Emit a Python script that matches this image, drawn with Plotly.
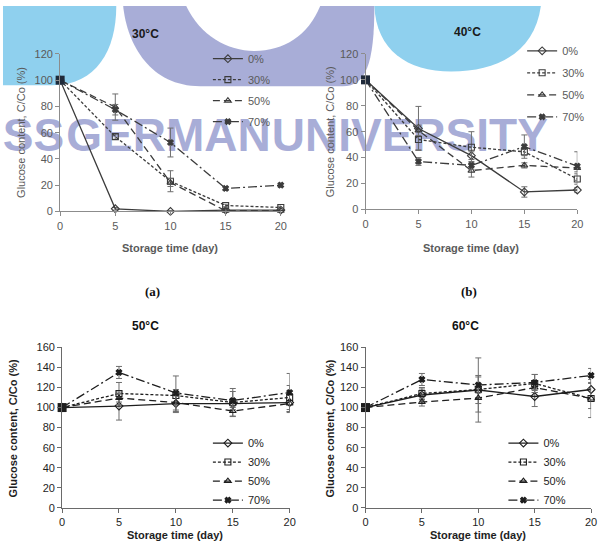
import plotly.graph_objects as go

W, H = 603, 550

# ---------------- data ----------------
days = [0, 5, 10, 15, 20]
series_names = ["0%", "30%", "50%", "70%"]

# 30 °C
a_0 = [100, 2, 0, 1, 1]
a_30 = [100, 57, 23, 4.5, 3]
a_50 = [100, 79.5, 22, 0.5, 0.5]
a_70 = [100, 77.5, 52.5, 17.5, 20]
a_err_0 = [0, 1, 0.5, 0.5, 0.5]
a_err_30 = [0, 2, 8, 1, 1]
a_err_50 = [0, 10, 3, 0.5, 0.5]
a_err_70 = [0, 4, 11, 1.5, 1.5]

# 40 °C
b_0 = [100, 62.5, 41.5, 13.5, 15]
b_30 = [100, 54, 48, 44.5, 23.5]
b_50 = [100, 61, 30, 34, 32]
b_70 = [100, 37, 34, 48.5, 33.5]
b_err_0 = [0, 17, 3, 4, 2]
b_err_30 = [0, 8, 12, 3, 4]
b_err_50 = [0, 4, 5, 2, 3]
b_err_70 = [0, 3, 3, 9, 11]

# 50 °C
c_0 = [100, 101.5, 104, 104, 105]
c_30 = [100, 114, 112, 105, 110]
c_50 = [100, 109.5, 105, 96.5, 104]
c_70 = [100, 135, 114.5, 107, 115]
c_err_0 = [0, 14, 8, 4, 10]
c_err_30 = [0, 11, 6, 14, 12]
c_err_50 = [0, 4, 10, 5, 8]
c_err_70 = [0, 6, 17, 9, 19]

# 60 °C
d_0 = [100, 112.5, 117.5, 111, 118]
d_30 = [100, 114, 118, 124, 109]
d_50 = [100, 105.5, 109.5, 120, 109]
d_70 = [100, 128, 122.5, 125, 132]
d_err_0 = [0, 6, 32, 10, 6]
d_err_30 = [0, 6, 14, 9, 19]
d_err_50 = [0, 4, 14, 5, 10]
d_err_70 = [0, 6, 8, 8, 7]

panel_titles = ["30°C", "40°C", "50°C", "60°C"]
x_title = "Storage time (day)"
y_title = "Glucose content, C/Co (%)"
x_ticks = [0, 5, 10, 15, 20]
y_ticks_top = [0, 20, 40, 60, 80, 100, 120]
y_ticks_bottom = [0, 20, 40, 60, 80, 100, 120, 140, 160]
watermark_words = ["SS", "GERMAN", "UNIVERSITY"]

# ---------------- style ----------------
FONT = "Liberation Sans, Arial, sans-serif"
symbols = ["diamond-open", "square-open", "triangle-up-open", "x"]
dashes = ["solid", "3px,2px", "7px,4px", "9px,3px,2px,3px"]
LAV = "#a8add7"
BLUE = "#8fd0ee"


def px_x(p):
    return p / W


def px_y(p):
    return 1 - p / H


panels = [
    dict(ax="2", vals=[a_0, a_30, a_50, a_70], errs=[a_err_0, a_err_30, a_err_50, a_err_70],
         xd=(58, 282), yd=(210, 49), yr=120, yt=y_ticks_top, top=True,
         leg=(208, 39), gap=2, title=(145, 29), xt=(170, 247), ytp=(18, 129)),
    dict(ax="3", vals=[b_0, b_30, b_50, b_70], errs=[b_err_0, b_err_30, b_err_50, b_err_70],
         xd=(368, 583), yd=(208, 49), yr=120, yt=y_ticks_top, top=True,
         leg=(527, 31), gap=3, title=(472, 27), xt=(475, 247), ytp=(332, 129)),
    dict(ax="4", vals=[c_0, c_30, c_50, c_70], errs=[c_err_0, c_err_30, c_err_50, c_err_70],
         xd=(60, 291), yd=(513, 349), yr=160, yt=y_ticks_bottom, top=False,
         leg=(208, 432), gap=0, title=(145, 327), xt=(175, 541), ytp=(10, 432)),
    dict(ax="5", vals=[d_0, d_30, d_50, d_70], errs=[d_err_0, d_err_30, d_err_50, d_err_70],
         xd=(368, 597), yd=(513, 349), yr=160, yt=y_ticks_bottom, top=False,
         leg=(508, 432), gap=0, title=(470, 327), xt=(482, 541), ytp=(332, 432)),
]

fig = go.Figure()

# background (watermark) subplot in pixel coordinates, drawn first
fig.add_trace(go.Scatter(
    x=[31, 168, 413], y=[136, 136, 136], mode="text",
    text=["<b>%s</b>" % w for w in watermark_words],
    textfont=dict(family="Liberation Sans, Arial, sans-serif", size=46, color=LAV),
    showlegend=False, hoverinfo="skip", xaxis="x", yaxis="y", cliponaxis=False))

layout_extra = {}
annotations = []
legend_defs = {}

for pi, p in enumerate(panels):
    ax = p["ax"]
    top = p["top"]
    lc = "#3c3c3c" if top else "#1e1e1e"
    tc = "#5a5a5a" if top else "#1e1e1e"
    axc = "#8c8c8c" if top else "#6a6a6a"
    legname = "legend" if pi == 0 else "legend%d" % (pi + 1)
    for si, name in enumerate(series_names):
        fig.add_trace(go.Scatter(
            x=days, y=p["vals"][si], name=name, mode="lines+markers",
            line=dict(color=lc, width=1.3, dash=dashes[si]),
            marker=dict(symbol=symbols[si], size=6 if si < 3 else 5, color=lc,
                        line=dict(color=lc, width=1.1)),
            error_y=dict(type="data", array=p["errs"][si], visible=True,
                         color="#6e6e6e", thickness=1, width=3),
            xaxis="x" + ax, yaxis="y" + ax, legend=legname,
            legendgroup="g%d_%d" % (pi, si), cliponaxis=False))
    # shared starting point drawn as a filled square
    fig.add_trace(go.Scatter(
        x=[days[0]], y=[p["vals"][0][0]], mode="markers",
        marker=dict(symbol="square", size=9, color="#1f2a3a" if top else "#1e1e1e"),
        showlegend=False, hoverinfo="skip", xaxis="x" + ax, yaxis="y" + ax, cliponaxis=False))

    layout_extra["xaxis" + ax] = dict(
        domain=[px_x(p["xd"][0]), px_x(p["xd"][1])], range=[0, 20], tickvals=x_ticks,
        anchor="y" + ax, showline=True, linecolor=axc, linewidth=1, ticks="outside",
        ticklen=4, tickcolor=axc, showgrid=False, zeroline=False,
        tickfont=dict(family=FONT, size=11, color=tc), fixedrange=True)
    layout_extra["yaxis" + ax] = dict(
        domain=[px_y(p["yd"][0]), px_y(p["yd"][1])], range=[0, p["yr"]], tickvals=p["yt"],
        anchor="x" + ax, showline=True, linecolor=axc, linewidth=1, ticks="outside",
        ticklen=4, tickcolor=axc, showgrid=False, zeroline=False,
        tickfont=dict(family=FONT, size=11, color=tc), fixedrange=True)

    legend_defs[legname] = dict(
        x=px_x(p["leg"][0]), y=px_y(p["leg"][1]), xanchor="left", yanchor="top",
        bgcolor="rgba(0,0,0,0)", borderwidth=0, tracegroupgap=p["gap"],
        font=dict(family=FONT, size=11, color=tc))

    common = dict(xref="paper", yref="paper", showarrow=False, xanchor="center", yanchor="middle")
    annotations.append(dict(text="<b>" + panel_titles[pi] + "</b>", x=px_x(p["title"][0]),
                            y=px_y(p["title"][1]),
                            font=dict(family=FONT, size=12, color="#1a1a1a" if top else "#111"),
                            **common))
    annotations.append(dict(text="<b>" + x_title + "</b>", x=px_x(p["xt"][0]), y=px_y(p["xt"][1]),
                            font=dict(family=FONT, size=11, color=tc), **common))
    annotations.append(dict(text=(y_title if top else "<b>" + y_title + "</b>"),
                            x=px_x(p["ytp"][0]), y=px_y(p["ytp"][1]), textangle=-90,
                            font=dict(family=FONT, size=11, color=tc), **common))

for lab, (lx, ly) in zip(["(a)", "(b)"], [(152, 292), (473, 292)]):
    annotations.append(dict(text="<b>" + lab + "</b>", x=px_x(lx), y=px_y(ly),
                            xref="paper", yref="paper", showarrow=False,
                            xanchor="center", yanchor="middle",
                            font=dict(family="Liberation Serif, serif", size=13, color="#111")))

shapes = [
    dict(type="path", xref="x", yref="y", layer="below", line=dict(width=0), fillcolor=BLUE,
         path="M0,0 L115,0 C115,45 95,81 50,81 L0,81 Z"),
    dict(type="path", xref="x", yref="y", layer="below", line=dict(width=0), fillcolor=LAV,
         path="M122,0 C126,40 150,82 200,82 L345,82 C368,82 377,60 377,0 Z"),
    dict(type="path", xref="x", yref="y", layer="below", line=dict(width=0), fillcolor="white",
         path="M186,0 C200,30 228,46 255,46 C285,46 310,30 322,0 Z"),
    dict(type="path", xref="x", yref="y", layer="below", line=dict(width=0), fillcolor=BLUE,
         path="M377,0 C379,45 410,67 455,67 C505,67 540,45 546,0 Z"),
]

fig.update_layout(
    width=W, height=H, margin=dict(l=0, r=0, t=0, b=0),
    paper_bgcolor="white", plot_bgcolor="rgba(0,0,0,0)",
    xaxis=dict(domain=[0, 1], range=[0, W], visible=False, fixedrange=True),
    yaxis=dict(domain=[0, 1], range=[H, 0], visible=False, fixedrange=True),
    annotations=annotations, shapes=shapes, font=dict(family=FONT),
    **layout_extra, **legend_defs)

fig.write_html("out.html")
